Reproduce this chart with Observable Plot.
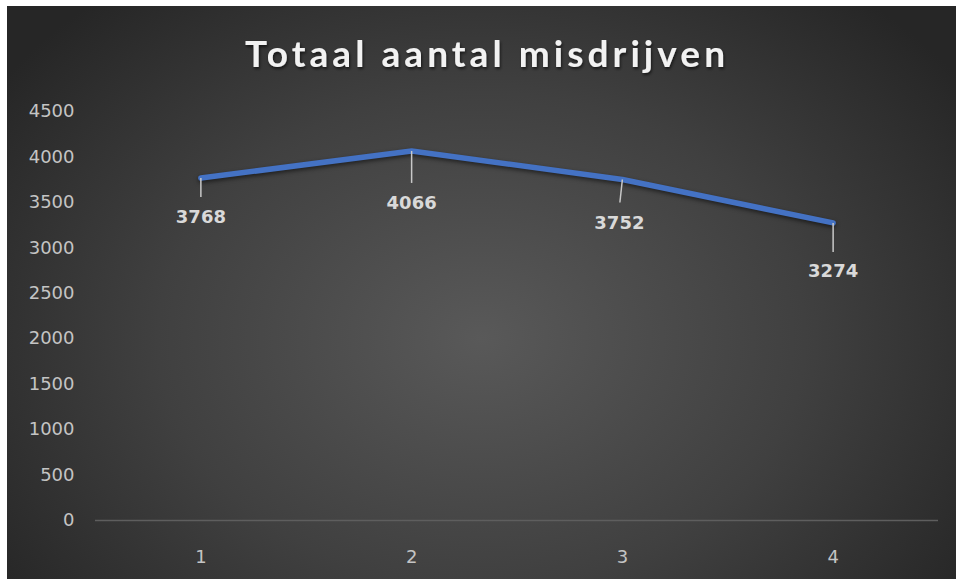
<!DOCTYPE html>
<html>
<head>
<meta charset="utf-8">
<script src="https://cdn.jsdelivr.net/npm/d3@7"></script>
<script src="https://cdn.jsdelivr.net/npm/@observablehq/plot@0.6"></script>
<style>
  html, body { margin: 0; padding: 0; background: #ffffff; }
  #wrap { position: relative; width: 956px; height: 579px; overflow: hidden; }
  #bg { position: absolute; left: 7px; top: 6px; right: 0; bottom: 0;
        background: radial-gradient(ellipse 62% 78% at 50% 58%, #595959 0%, #404040 55%, #262626 100%); }
  #chart { position: absolute; left: 0; top: 0; }
  #title { position: absolute; left: 0; top: 0; }
  g[aria-label="line"] { filter: drop-shadow(0px 2px 2px rgba(0,0,0,0.55)); }
</style>
</head>
<body>
<div id="wrap">
  <div id="bg"></div>
  <div id="chart"></div>
  <svg id="title" width="956" height="100">
    <defs>
      <filter id="ts" x="-5%" y="-20%" width="110%" height="150%">
        <feDropShadow dx="1" dy="2" stdDeviation="1.5" flood-color="#000" flood-opacity="0.6"/>
      </filter>
    </defs>
    <text id="titleText" x="485" y="67" text-anchor="middle" textLength="480" lengthAdjust="spacing"
          font-family="Lato" font-weight="bold" font-size="37" fill="#f2f2f2" filter="url(#ts)">Totaal aantal misdrijven</text>
  </svg>
</div>
<script>
// ---- data ----
const categories = [1, 2, 3, 4];
const misdrijven = [3768, 4066, 3752, 3274];
const yTicks = [0, 500, 1000, 1500, 2000, 2500, 3000, 3500, 4000, 4500];

// ---- layout (pixel nudges for leader lines and labels) ----
const leaderNudge = [[0, 19], [0, 32], [-2.5, 23], [0, 29]];
const labelNudge  = [[0, 39], [0, 52.5], [-3, 43.5], [0, 48.5]];

const W = 956, H = 579;
const mL = 95, mR = 18, mT = 111, mB = 59;
const xOpts = {type: "linear", domain: [0.5, 4.5], range: [mL, W - mR]};
const yOpts = {type: "linear", domain: [0, 4500], range: [H - mB, mT]};
const xs = Plot.scale({x: xOpts});
const ys = Plot.scale({y: yOpts});

const data = categories.map((c, i) => ({cat: c, value: misdrijven[i]}));
const leaders = data.map((d, i) => ({
  x1: d.cat, y1: d.value,
  x2: xs.invert(xs.apply(d.cat) + leaderNudge[i][0]),
  y2: ys.invert(ys.apply(d.value) + leaderNudge[i][1])
}));
const labels = data.map((d, i) => ({
  x: xs.invert(xs.apply(d.cat) + labelNudge[i][0]),
  y: ys.invert(ys.apply(d.value) + labelNudge[i][1]),
  text: String(d.value)
}));

const chart = Plot.plot({
  width: W, height: H,
  marginLeft: mL, marginRight: mR, marginTop: mT, marginBottom: mB,
  style: {background: "transparent", color: "#c4c4c4", fontFamily: "DejaVu Sans", fontSize: "18px"},
  x: {...xOpts, axis: null},
  y: {...yOpts, axis: null},
  marks: [
    Plot.ruleY([0], {stroke: "#5e5e5e", strokeWidth: 1.5}),
    Plot.axisY({ticks: yTicks, tickFormat: d => String(d), tickSize: 0, tickPadding: 21, fill: "#c4c4c4", fontSize: 18, label: null}),
    Plot.axisX({ticks: categories, tickFormat: d => String(d), tickSize: 0, tickPadding: 30, fill: "#c4c4c4", fontSize: 18, label: null}),
    Plot.line(data, {x: "cat", y: "value", stroke: "#4472C4", strokeWidth: 5.5, strokeLinejoin: "round"}),
    Plot.link(leaders, {x1: "x1", y1: "y1", x2: "x2", y2: "y2", stroke: "#c8c8c8", strokeWidth: 1.5}),
    Plot.text(labels, {x: "x", y: "y", text: "text", fill: "#d9d9d9", fontWeight: "bold", fontSize: 18, fontFamily: "DejaVu Sans"})
  ]
});
document.getElementById("chart").appendChild(chart);
</script>
</body>
</html>
